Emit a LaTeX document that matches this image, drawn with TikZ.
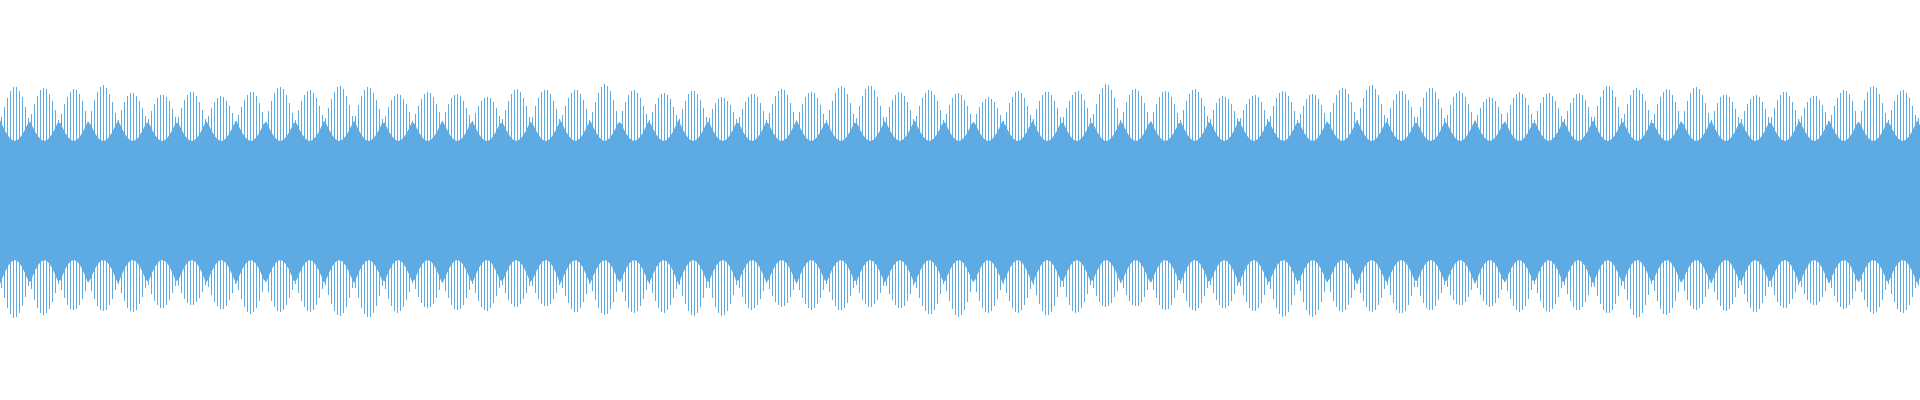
\documentclass[tikz,border=0pt]{standalone}
\definecolor{wc}{RGB}{93,171,226}
\begin{document}
\begin{tikzpicture}[x=0.01cm,y=-0.01cm]
\useasboundingbox (0,0) rectangle (1920,400);
\fill[wc] plot[domain=0:1920,samples=700] (\x,{200-(80-21*abs(sin(6.1017*\x)))}) -- plot[domain=1920:0,samples=700] (\x,{200+(84-24*abs(sin(6.1017*\x)))}) -- cycle;
\foreach \i in {0,...,639}{
  \pgfmathsetmacro\xx{3*\i+1.5}
  \pgfmathsetmacro\ee{abs(sin(6.1017*\xx))}
  \pgfmathsetmacro\ht{78+38*\ee*(0.82+0.1*sin(\xx*1.37)+0.08*sin(\xx*4.3))}
  \pgfmathsetmacro\hb{82+36*\ee*(0.82+0.1*sin(\xx*1.11+70)+0.08*sin(\xx*3.1+40))}
  \draw[wc,line width=0.4pt] (\xx,200-\ht) -- (\xx,200+\hb);
}
\end{tikzpicture}
\end{document}
